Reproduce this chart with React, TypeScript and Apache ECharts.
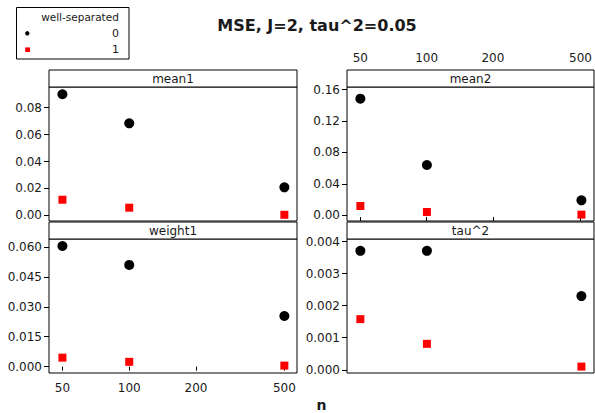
import React, { useEffect, useRef } from "react";
import * as echarts from "echarts";

// ---- data ----
const nValues = [50, 100, 500];
const xTickValues = [50, 100, 200, 500];
const xRange = [43.5, 570];

const mean1Sep0 = [0.09, 0.0684, 0.0208];
const mean1Sep1 = [0.0116, 0.0057, 0.0004];
const mean2Sep0 = [0.1485, 0.064, 0.019];
const mean2Sep1 = [0.0118, 0.0042, 0.0008];
const weight1Sep0 = [0.0605, 0.051, 0.0254];
const weight1Sep1 = [0.0045, 0.0024, 0.0005];
const tau2Sep0 = [0.00371, 0.00371, 0.0023];
const tau2Sep1 = [0.00158, 0.00081, 0.0001];

const mean1Ticks = [0, 0.02, 0.04, 0.06, 0.08];
const mean2Ticks = [0, 0.04, 0.08, 0.12, 0.16];
const weight1Ticks = [0, 0.015, 0.03, 0.045, 0.06];
const tau2Ticks = [0, 0.001, 0.002, 0.003, 0.004];

const panelNames = ["mean1", "mean2", "weight1", "tau^2"];
const legendTitle = "well-separated";
const groupLabels = ["0", "1"];
const chartTitle = "MSE, J=2, tau^2=0.05";
const xName = "n";

const FONT = "DejaVu Sans";
const TXT = "#1a1a1a";

export default function App() {
  const ref = useRef<HTMLDivElement>(null);
  useEffect(() => {
    if (!ref.current) return;
    const chart = echarts.init(ref.current, undefined, { renderer: "svg" });

    const panels = [
      { name: panelNames[0], g0: mean1Sep0, g1: mean1Sep1, ticks: mean1Ticks, dec: 2, yMin: -0.0042, yMax: 0.0954, left: 49, top: 87, width: 248, showBottomLabels: false },
      { name: panelNames[1], g0: mean2Sep0, g1: mean2Sep1, ticks: mean2Ticks, dec: 2, yMin: -0.0073, yMax: 0.1634, left: 347, top: 87, width: 247, showBottomLabels: false },
      { name: panelNames[2], g0: weight1Sep0, g1: weight1Sep1, ticks: weight1Ticks, dec: 3, yMin: -0.0032, yMax: 0.064, left: 49, top: 239, width: 248, showBottomLabels: true },
      { name: panelNames[3], g0: tau2Sep0, g1: tau2Sep1, ticks: tau2Ticks, dec: 3, yMin: -0.0001, yMax: 0.00408, left: 347, top: 239, width: 247, showBottomLabels: false },
    ];
    const plotH = 134;
    const stripH = 17;

    const xLogTicks = xTickValues.map((v) => Math.log10(v));
    const xMin = Math.log10(xRange[0]);
    const xMax = Math.log10(xRange[1]);

    const grid: any[] = panels.map((p) => ({
      left: p.left,
      top: p.top,
      width: p.width,
      height: plotH,
      show: true,
      borderColor: "#000",
      borderWidth: 1,
      backgroundColor: "transparent",
      containLabel: false,
    }));
    // extra grid carrying the top x axis of the upper-right panel (above its strip)
    grid.push({
      left: panels[1].left,
      top: panels[1].top - stripH,
      width: panels[1].width,
      height: plotH + stripH,
      show: false,
    });

    const xLabelStyle = {
      fontFamily: FONT,
      fontSize: 12,
      color: TXT,
      formatter: (v: number) => String(Math.round(Math.pow(10, v))),
    };

    const xAxis: any[] = panels.map((p, i) => {
      const labelled = p.showBottomLabels;
      return {
        type: "value",
        gridIndex: i,
        min: xMin,
        max: xMax,
        position: "bottom",
        axisLine: { show: false },
        splitLine: { show: false },
        axisTick: {
          show: labelled,
          length: 4,
          customValues: xLogTicks,
          lineStyle: { color: "#000", width: 1 },
        },
        axisLabel: {
          show: labelled,
          customValues: xLogTicks,
          margin: 9,
          ...xLabelStyle,
        },
      };
    });
    xAxis.push({
      type: "value",
      gridIndex: 4,
      min: xMin,
      max: xMax,
      position: "top",
      axisLine: { show: false },
      splitLine: { show: false },
      axisTick: {
        show: true,
        length: 4,
        customValues: xLogTicks,
        lineStyle: { color: "#000", width: 1 },
      },
      axisLabel: {
        show: true,
        customValues: xLogTicks,
        margin: 6,
        ...xLabelStyle,
      },
    });

    const yAxis: any[] = panels.map((p, i) => ({
      type: "value",
      gridIndex: i,
      min: p.yMin,
      max: p.yMax,
      axisLine: { show: false },
      splitLine: { show: false },
      axisTick: {
        show: true,
        length: 5,
        customValues: p.ticks,
        lineStyle: { color: "#000", width: 1 },
      },
      axisLabel: {
        customValues: p.ticks,
        margin: 7,
        fontFamily: FONT,
        fontSize: 12,
        color: TXT,
        formatter: (v: number) => v.toFixed(p.dec),
      },
    }));
    yAxis.push({
      type: "value",
      gridIndex: 4,
      min: 0,
      max: 1,
      show: false,
    });

    const series: any[] = [];
    panels.forEach((p, i) => {
      series.push({
        type: "scatter",
        xAxisIndex: i,
        yAxisIndex: i,
        symbol: "circle",
        symbolSize: 10,
        itemStyle: { color: "#000", opacity: 1 },
        data: nValues.map((n, j) => [Math.log10(n), p.g0[j]]),
        z: 3,
      });
      series.push({
        type: "scatter",
        xAxisIndex: i,
        yAxisIndex: i,
        symbol: "rect",
        symbolSize: 8,
        itemStyle: { color: "#ff0000", opacity: 1 },
        data: nValues.map((n, j) => [Math.log10(n), p.g1[j]]),
        z: 3,
      });
    });

    const graphics: any[] = [];
    panels.forEach((p) => {
      graphics.push({
        type: "rect",
        shape: { x: p.left, y: p.top - stripH, width: p.width, height: stripH },
        style: { fill: "#fff", stroke: "#000", lineWidth: 1 },
        z: 10,
      });
      graphics.push({
        type: "text",
        x: p.left + p.width / 2,
        y: p.top - stripH / 2,
        style: {
          text: p.name,
          fontFamily: FONT,
          fontSize: 12,
          fill: TXT,
          align: "center",
          verticalAlign: "middle",
        },
        z: 11,
      });
    });

    // title
    graphics.push({
      type: "text",
      x: 317,
      y: 25,
      style: {
        text: chartTitle,
        fontFamily: FONT,
        fontSize: 16,
        fontWeight: "bold",
        fill: TXT,
        align: "center",
        verticalAlign: "middle",
      },
    });
    // x name
    graphics.push({
      type: "text",
      x: 321.5,
      y: 405,
      style: {
        text: xName,
        fontFamily: FONT,
        fontSize: 14,
        fontWeight: "bold",
        fill: TXT,
        align: "center",
        verticalAlign: "middle",
      },
    });
    // legend
    graphics.push({
      type: "rect",
      shape: { x: 16.5, y: 7.5, width: 112.5, height: 51.5 },
      style: { fill: "#fff", stroke: "#000", lineWidth: 1 },
    });
    graphics.push({
      type: "text",
      x: 80,
      y: 17,
      style: { text: legendTitle, fontFamily: FONT, fontSize: 10.5, fill: TXT, align: "center", verticalAlign: "middle" },
    });
    graphics.push({
      type: "circle",
      shape: { cx: 27.3, cy: 33.3, r: 2.2 },
      style: { fill: "#000" },
    });
    graphics.push({
      type: "text",
      x: 119,
      y: 33.3,
      style: { text: groupLabels[0], fontFamily: FONT, fontSize: 11, fill: TXT, align: "right", verticalAlign: "middle" },
    });
    graphics.push({
      type: "rect",
      shape: { x: 25.2, y: 47.4, width: 4.8, height: 4.6 },
      style: { fill: "#ff0000" },
    });
    graphics.push({
      type: "text",
      x: 119,
      y: 49.5,
      style: { text: groupLabels[1], fontFamily: FONT, fontSize: 11, fill: TXT, align: "right", verticalAlign: "middle" },
    });

    chart.setOption({
      animation: false,
      backgroundColor: "#fff",
      grid,
      xAxis,
      yAxis,
      series,
      graphic: graphics,
    });
    return () => chart.dispose();
  }, []);

  return (
    <div
      ref={ref}
      style={{ position: "fixed", left: 0, top: 0, width: 595, height: 413 }}
    />
  );
}
